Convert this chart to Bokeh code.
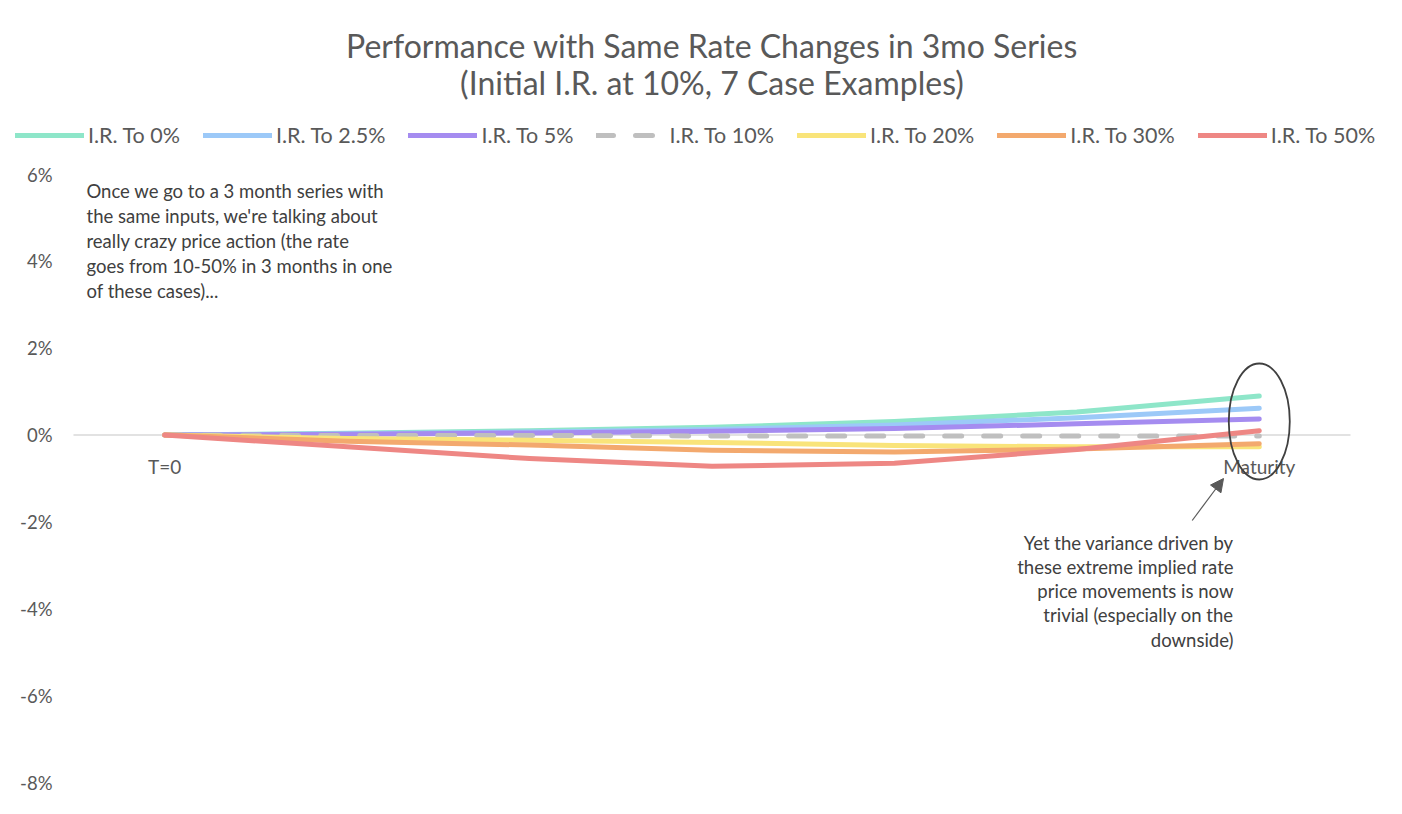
from bokeh.plotting import figure
from bokeh.models import Range1d, Legend, LegendItem, Arrow, NormalHead
from bokeh.embed import file_html
from bokeh.resources import INLINE
from bokeh.core.properties import value

# ---------------- data ----------------
categories = ["T=0", "", "", "", "", "", "Maturity"]
series_names = ["I.R. To 0%", "I.R. To 2.5%", "I.R. To 5%", "I.R. To 10%",
                "I.R. To 20%", "I.R. To 30%", "I.R. To 50%"]
ir_to_0 = [0.0, 0.04, 0.10, 0.18, 0.31, 0.53, 0.90]
ir_to_2_5 = [0.0, 0.03, 0.07, 0.13, 0.23, 0.40, 0.62]
ir_to_5 = [0.0, 0.02, 0.05, 0.09, 0.15, 0.26, 0.37]
ir_to_10 = [0.0, -0.01, -0.01, -0.02, -0.02, -0.02, -0.02]
ir_to_20 = [0.0, -0.08, -0.12, -0.17, -0.24, -0.27, -0.27]
ir_to_30 = [0.0, -0.14, -0.23, -0.35, -0.39, -0.32, -0.20]
ir_to_50 = [0.0, -0.27, -0.54, -0.72, -0.65, -0.33, 0.10]
y_ticks = [-8, -6, -4, -2, 0, 2, 4, 6]

title_lines = ["Performance with Same Rate Changes in 3mo Series",
               "(Initial I.R. at 10%, 7 Case Examples)"]
note_left = ["Once we go to a 3 month series with",
             "the same inputs, we're talking about",
             "really crazy price action (the rate",
             "goes from 10-50% in 3 months in one",
             "of these cases)..."]
note_right = ["Yet the variance driven by",
              "these extreme implied rate",
              "price movements is now",
              "trivial (especially on the",
              "downside)"]

# ---------------- style ----------------
colors = ["#8EE6C9", "#9CC9F8", "#A58CF0", "#BFBFBF", "#F9E47A", "#F3A96E", "#EE8784"]
FONT = "Lato"
TXT = "#595959"

series = [ir_to_0, ir_to_2_5, ir_to_5, ir_to_10, ir_to_20, ir_to_30, ir_to_50]
xs = list(range(len(categories)))
n = len(categories)

W, H = 1386, 798
PX_PER_PCT = 43.43      # vertical pixels per 1 %
ROW_6 = 174             # pixel row of the 6 % tick
PX_PER_CAT = 182.43     # horizontal pixels per category
COL_0 = 164.2           # pixel column of the first category


def ry(px):
    return 6 + (ROW_6 - px) / PX_PER_PCT


def rx(px):
    return (px - COL_0) / PX_PER_CAT


p = figure(width=W, height=H, output_backend="svg", toolbar_location=None,
           x_range=Range1d(rx(0), rx(W)), y_range=Range1d(ry(H), ry(0)),
           x_axis_location=None, y_axis_location=None,
           min_border_left=0, min_border_right=0,
           min_border_top=0, min_border_bottom=0)
p.outline_line_color = None
p.xgrid.visible = False
p.ygrid.visible = False
p.background_fill_color = "white"

# zero line across the category area
p.segment(x0=[-0.5], y0=[0], x1=[n - 0.5], y1=[0], line_color="#D9D9D9", line_width=1.5)

# value-axis labels
p.text(x=[-0.5] * len(y_ticks), y=y_ticks, text=[f"{t}%" for t in y_ticks],
       x_offset=-21, text_align="right", text_baseline="middle",
       text_font=value(FONT), text_font_size="18.5px", text_color=TXT)

items = []
for name, vals, col in zip(series_names, series, colors):
    if name == "I.R. To 10%":
        r = p.line(xs, vals, line_color=col, line_width=5, line_cap="round",
                   line_dash="17 22")
    else:
        r = p.line(xs, vals, line_color=col, line_width=5, line_cap="round",
                   line_join="round")
    items.append(LegendItem(label=name, renderers=[r]))

legend = Legend(items=items, orientation="horizontal", location=(15, 650),
                glyph_width=69, glyph_height=22, label_standoff=4, spacing=23,
                padding=0, margin=0, border_line_color=None,
                background_fill_alpha=0, label_text_font=FONT,
                label_text_font_size="21.5px", label_text_color=TXT,
                label_height=22)
p.add_layout(legend, "center")

# category labels
lab_x = [i for i, c in enumerate(categories) if c]
lab_t = [c for c in categories if c]
p.text(x=lab_x, y=[0] * len(lab_x), text=lab_t, y_offset=31,
       text_align="center", text_baseline="middle", text_font=value(FONT),
       text_font_size="19px", text_color=TXT)

# title
p.text(x=[3, 3], y=[ry(45), ry(82)], text=title_lines, text_align="center",
       text_baseline="middle", text_font=value(FONT), text_font_size="32px",
       text_color=TXT)

# notes
p.text(x=[rx(86)] * len(note_left), y=[ry(190)] * len(note_left), text=note_left,
       y_offset=[25 * i for i in range(len(note_left))],
       text_align="left", text_baseline="middle", text_font=value(FONT),
       text_font_size="18.5px", text_color="#404040")
p.text(x=[rx(1233)] * len(note_right), y=[ry(542)] * len(note_right), text=note_right,
       y_offset=[24.3 * i for i in range(len(note_right))],
       text_align="right", text_baseline="middle", text_font=value(FONT),
       text_font_size="18.5px", text_color="#404040")

# arrow and ellipse
p.add_layout(Arrow(end=NormalHead(size=13, fill_color="#595959", line_color="#595959"),
                   x_start=rx(1191.7), y_start=ry(520), x_end=rx(1223), y_end=ry(478),
                   line_color="#595959", line_width=1.2))
p.ellipse(x=[n - 1], y=[ry(421)], width=[61], height=[116], width_units="screen",
          height_units="screen", fill_color=None, line_color="#404040", line_width=1.8)

open("out.html", "w").write(file_html(p, INLINE))
